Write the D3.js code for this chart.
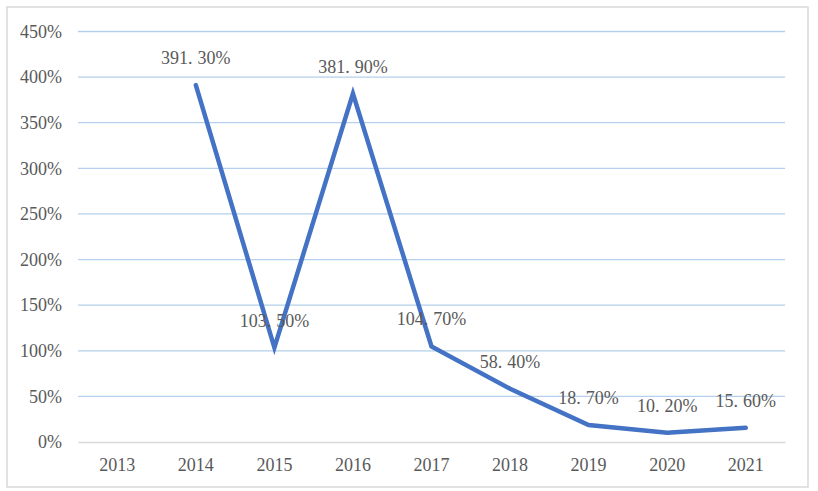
<!DOCTYPE html>
<html><head><meta charset="utf-8">
<script src="https://cdn.jsdelivr.net/npm/d3@7"></script>
<style>html,body{margin:0;padding:0;background:#fff;}</style>
</head><body>
<svg id="chart" width="818" height="491"></svg>
<script>
const years = ["2013","2014","2015","2016","2017","2018","2019","2020","2021"];
const values = [null, 391.3, 103.5, 381.9, 104.7, 58.4, 18.7, 10.2, 15.6];
const yTicks = [0,50,100,150,200,250,300,350,400,450];

const svg = d3.select("#chart");
const W = 818, H = 491;
const m = {left:78, right:33, top:31.5, bottom:49};
const font = "'Liberation Serif', 'Noto Sans CJK SC', serif";

svg.append("rect").attr("x",7).attr("y",7).attr("width",801).attr("height",480)
  .attr("fill","#fff").attr("stroke","#d9d9d9").attr("stroke-width",1.5);

const x = d3.scaleBand().domain(years).range([m.left, W-m.right]).padding(0);
const y = d3.scaleLinear().domain([0,450]).range([H-m.bottom, m.top]);

// gridlines
svg.append("g").selectAll("line").data(yTicks.filter(t=>t>0)).join("line")
  .attr("x1",m.left).attr("x2",W-m.right)
  .attr("y1",d=>y(d)).attr("y2",d=>y(d))
  .attr("stroke","#b4d0ec").attr("stroke-width",1.3);

// y axis
const ya = svg.append("g").attr("transform",`translate(${m.left},0)`)
  .call(d3.axisLeft(y).tickValues(yTicks).tickFormat(d=>d+"%").tickSize(0).tickPadding(16));
ya.select(".domain").remove();
ya.selectAll("text").attr("font-family",font).attr("font-size",18).attr("fill","#595959");

// x axis
const xa = svg.append("g").attr("transform",`translate(0,${y(0)})`)
  .call(d3.axisBottom(x).tickSize(0).tickPadding(16));
xa.select(".domain").attr("stroke","#d9d9d9").attr("stroke-width",1.5);
xa.selectAll("text").attr("font-family",font).attr("font-size",18).attr("fill","#595959");

const pts = years.map((yr,i)=>({yr, v:values[i]})).filter(d=>d.v!==null);
const line = d3.line().x(d=>x(d.yr)+x.bandwidth()/2).y(d=>y(d.v));
svg.append("path").datum(pts).attr("d",line).attr("fill","none")
  .attr("stroke","#4472c4").attr("stroke-width",4.5)
  .attr("stroke-linejoin","miter").attr("stroke-linecap","round");

// data labels
const lbl = svg.append("g").selectAll("text").data(pts).join("text")
  .attr("x",d=>x(d.yr)+x.bandwidth()/2).attr("y",d=>y(d.v)-21)
  .attr("text-anchor","middle").attr("font-family",font).attr("font-size",18)
  .attr("fill","#595959");
lbl.each(function(d){
  const s = d3.format(".2f")(d.v).split(".");
  const t = d3.select(this);
  t.append("tspan").text(s[0]+".");
  t.append("tspan").attr("dx",5).text(s[1]+"%");
});
</script>
</body></html>
